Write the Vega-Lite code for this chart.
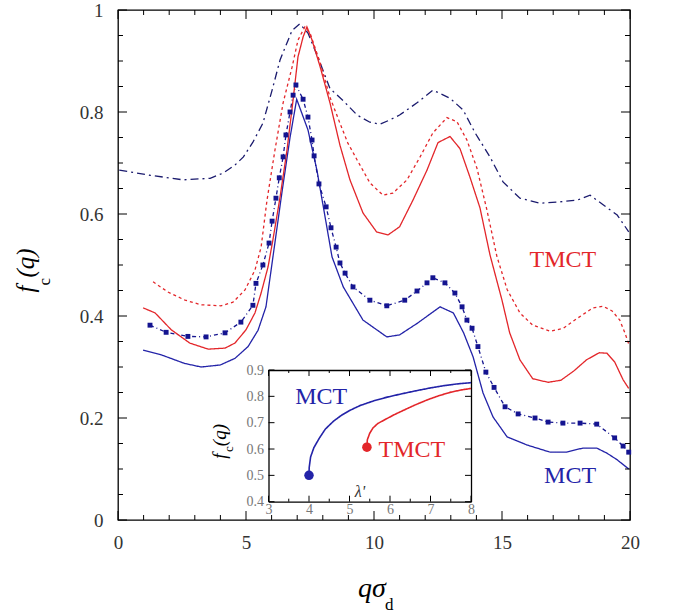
{
  "$schema": "https://vega.github.io/schema/vega-lite/v6.json",
  "width": 512,
  "height": 510,
  "autosize": "none",
  "padding": {"left": 118, "top": 10, "right": 43, "bottom": 94},
  "background": "white",
  "config": {
    "view": {"stroke": "#000", "strokeWidth": 1.3},
    "axis": {"grid": false, "title": null, "domainColor": "#000", "domainWidth": 1.3, "labelFont": "Liberation Serif", "labelOverlap": false, "labelFlush": false, "labelBound": false}
  },
  "datasets": {
    "main": [
      {"s":"MCT","q":0.98,"f":0.333},{"s":"MCT","q":1.68,"f":0.324},{"s":"MCT","q":2.6,"f":0.307},{"s":"MCT","q":3.25,"f":0.300},{"s":"MCT","q":4.0,"f":0.304},{"s":"MCT","q":4.57,"f":0.317},{"s":"MCT","q":5.08,"f":0.34},{"s":"MCT","q":5.47,"f":0.372},{"s":"MCT","q":5.78,"f":0.418},{"s":"MCT","q":6.05,"f":0.515},{"s":"MCT","q":6.4,"f":0.641},{"s":"MCT","q":6.72,"f":0.75},{"s":"MCT","q":6.98,"f":0.825},{"s":"MCT","q":7.42,"f":0.765},{"s":"MCT","q":7.77,"f":0.686},{"s":"MCT","q":8.09,"f":0.594},{"s":"MCT","q":8.36,"f":0.516},{"s":"MCT","q":8.8,"f":0.457},{"s":"MCT","q":9.57,"f":0.392},{"s":"MCT","q":10.5,"f":0.359},{"s":"MCT","q":11.0,"f":0.363},{"s":"MCT","q":11.7,"f":0.386},{"s":"MCT","q":12.58,"f":0.418},{"s":"MCT","q":13.1,"f":0.406},{"s":"MCT","q":13.5,"f":0.367},{"s":"MCT","q":13.87,"f":0.32},{"s":"MCT","q":14.26,"f":0.249},{"s":"MCT","q":14.65,"f":0.202},{"s":"MCT","q":15.2,"f":0.163},{"s":"MCT","q":15.98,"f":0.147},{"s":"MCT","q":16.88,"f":0.133},{"s":"MCT","q":17.5,"f":0.133},{"s":"MCT","q":18.16,"f":0.141},{"s":"MCT","q":18.7,"f":0.141},{"s":"MCT","q":19.1,"f":0.131},{"s":"MCT","q":19.5,"f":0.118},{"s":"MCT","q":19.95,"f":0.100},
      {"s":"MCTd","q":1.25,"f":0.382},{"s":"MCTd","q":1.88,"f":0.368},{"s":"MCTd","q":2.73,"f":0.36},{"s":"MCTd","q":3.44,"f":0.359},{"s":"MCTd","q":4.18,"f":0.367},{"s":"MCTd","q":4.8,"f":0.388},{"s":"MCTd","q":5.27,"f":0.421},{"s":"MCTd","q":5.39,"f":0.464},{"s":"MCTd","q":5.66,"f":0.5},{"s":"MCTd","q":5.9,"f":0.543},{"s":"MCTd","q":6.02,"f":0.586},{"s":"MCTd","q":6.17,"f":0.631},{"s":"MCTd","q":6.3,"f":0.671},{"s":"MCTd","q":6.45,"f":0.712},{"s":"MCTd","q":6.56,"f":0.755},{"s":"MCTd","q":6.72,"f":0.8},{"s":"MCTd","q":6.84,"f":0.833},{"s":"MCTd","q":6.95,"f":0.853},{"s":"MCTd","q":7.23,"f":0.825},{"s":"MCTd","q":7.42,"f":0.79},{"s":"MCTd","q":7.58,"f":0.745},{"s":"MCTd","q":7.66,"f":0.714},{"s":"MCTd","q":7.85,"f":0.659},{"s":"MCTd","q":8.13,"f":0.614},{"s":"MCTd","q":8.32,"f":0.573},{"s":"MCTd","q":8.52,"f":0.535},{"s":"MCTd","q":8.67,"f":0.504},{"s":"MCTd","q":8.87,"f":0.484},{"s":"MCTd","q":9.18,"f":0.457},{"s":"MCTd","q":9.84,"f":0.431},{"s":"MCTd","q":10.5,"f":0.42},{"s":"MCTd","q":11.2,"f":0.431},{"s":"MCTd","q":11.68,"f":0.449},{"s":"MCTd","q":12.07,"f":0.465},{"s":"MCTd","q":12.3,"f":0.475},{"s":"MCTd","q":12.77,"f":0.465},{"s":"MCTd","q":13.16,"f":0.445},{"s":"MCTd","q":13.44,"f":0.418},{"s":"MCTd","q":13.63,"f":0.392},{"s":"MCTd","q":13.83,"f":0.376},{"s":"MCTd","q":14.06,"f":0.34},{"s":"MCTd","q":14.37,"f":0.29},{"s":"MCTd","q":14.69,"f":0.26},{"s":"MCTd","q":15.12,"f":0.222},{"s":"MCTd","q":15.63,"f":0.208},{"s":"MCTd","q":16.29,"f":0.2},{"s":"MCTd","q":16.8,"f":0.192},{"s":"MCTd","q":17.38,"f":0.19},{"s":"MCTd","q":18.05,"f":0.19},{"s":"MCTd","q":18.7,"f":0.188},{"s":"MCTd","q":19.4,"f":0.161},{"s":"MCTd","q":19.73,"f":0.145},{"s":"MCTd","q":19.95,"f":0.133},
      {"s":"MCTdd","q":0.05,"f":0.686},{"s":"MCTdd","q":1.25,"f":0.676},{"s":"MCTdd","q":2.54,"f":0.667},{"s":"MCTdd","q":3.6,"f":0.67},{"s":"MCTdd","q":4.1,"f":0.68},{"s":"MCTdd","q":4.57,"f":0.696},{"s":"MCTdd","q":4.9,"f":0.712},{"s":"MCTdd","q":5.27,"f":0.741},{"s":"MCTdd","q":5.66,"f":0.778},{"s":"MCTdd","q":6.02,"f":0.843},{"s":"MCTdd","q":6.33,"f":0.902},{"s":"MCTdd","q":6.8,"f":0.96},{"s":"MCTdd","q":7.1,"f":0.973},{"s":"MCTdd","q":7.42,"f":0.955},{"s":"MCTdd","q":7.9,"f":0.896},{"s":"MCTdd","q":8.28,"f":0.846},{"s":"MCTdd","q":8.8,"f":0.822},{"s":"MCTdd","q":9.34,"f":0.794},{"s":"MCTdd","q":9.84,"f":0.78},{"s":"MCTdd","q":10.23,"f":0.776},{"s":"MCTdd","q":10.6,"f":0.784},{"s":"MCTdd","q":11.0,"f":0.794},{"s":"MCTdd","q":11.68,"f":0.818},{"s":"MCTdd","q":12.3,"f":0.843},{"s":"MCTdd","q":12.97,"f":0.827},{"s":"MCTdd","q":13.48,"f":0.804},{"s":"MCTdd","q":13.95,"f":0.759},{"s":"MCTdd","q":14.53,"f":0.712},{"s":"MCTdd","q":15.04,"f":0.663},{"s":"MCTdd","q":15.7,"f":0.631},{"s":"MCTdd","q":16.48,"f":0.621},{"s":"MCTdd","q":17.27,"f":0.624},{"s":"MCTdd","q":17.93,"f":0.627},{"s":"MCTdd","q":18.44,"f":0.637},{"s":"MCTdd","q":18.95,"f":0.618},{"s":"MCTdd","q":19.5,"f":0.598},{"s":"MCTdd","q":19.95,"f":0.565},
      {"s":"TMCT","q":0.98,"f":0.416},{"s":"TMCT","q":1.45,"f":0.406},{"s":"TMCT","q":2.08,"f":0.373},{"s":"TMCT","q":2.8,"f":0.347},{"s":"TMCT","q":3.52,"f":0.335},{"s":"TMCT","q":4.18,"f":0.337},{"s":"TMCT","q":4.57,"f":0.347},{"s":"TMCT","q":5.0,"f":0.373},{"s":"TMCT","q":5.35,"f":0.406},{"s":"TMCT","q":5.59,"f":0.445},{"s":"TMCT","q":5.86,"f":0.496},{"s":"TMCT","q":6.05,"f":0.549},{"s":"TMCT","q":6.33,"f":0.633},{"s":"TMCT","q":6.6,"f":0.725},{"s":"TMCT","q":6.84,"f":0.824},{"s":"TMCT","q":7.03,"f":0.908},{"s":"TMCT","q":7.23,"f":0.947},{"s":"TMCT","q":7.38,"f":0.967},{"s":"TMCT","q":7.58,"f":0.941},{"s":"TMCT","q":7.9,"f":0.888},{"s":"TMCT","q":8.28,"f":0.818},{"s":"TMCT","q":8.67,"f":0.735},{"s":"TMCT","q":9.06,"f":0.667},{"s":"TMCT","q":9.57,"f":0.602},{"s":"TMCT","q":10.1,"f":0.565},{"s":"TMCT","q":10.55,"f":0.559},{"s":"TMCT","q":11.0,"f":0.575},{"s":"TMCT","q":11.52,"f":0.627},{"s":"TMCT","q":12.07,"f":0.686},{"s":"TMCT","q":12.5,"f":0.74},{"s":"TMCT","q":12.97,"f":0.752},{"s":"TMCT","q":13.36,"f":0.728},{"s":"TMCT","q":13.75,"f":0.672},{"s":"TMCT","q":14.14,"f":0.612},{"s":"TMCT","q":14.53,"f":0.52},{"s":"TMCT","q":15.0,"f":0.431},{"s":"TMCT","q":15.3,"f":0.367},{"s":"TMCT","q":15.7,"f":0.314},{"s":"TMCT","q":16.2,"f":0.277},{"s":"TMCT","q":16.8,"f":0.27},{"s":"TMCT","q":17.3,"f":0.274},{"s":"TMCT","q":17.8,"f":0.292},{"s":"TMCT","q":18.3,"f":0.314},{"s":"TMCT","q":18.8,"f":0.328},{"s":"TMCT","q":19.1,"f":0.327},{"s":"TMCT","q":19.4,"f":0.31},{"s":"TMCT","q":19.73,"f":0.275},{"s":"TMCT","q":19.95,"f":0.258},
      {"s":"TMCTd","q":1.37,"f":0.467},{"s":"TMCTd","q":1.95,"f":0.447},{"s":"TMCTd","q":2.62,"f":0.431},{"s":"TMCTd","q":3.25,"f":0.422},{"s":"TMCTd","q":4.02,"f":0.42},{"s":"TMCTd","q":4.49,"f":0.427},{"s":"TMCTd","q":4.96,"f":0.451},{"s":"TMCTd","q":5.35,"f":0.49},{"s":"TMCTd","q":5.59,"f":0.535},{"s":"TMCTd","q":5.82,"f":0.627},{"s":"TMCTd","q":6.13,"f":0.725},{"s":"TMCTd","q":6.45,"f":0.818},{"s":"TMCTd","q":6.8,"f":0.888},{"s":"TMCTd","q":7.03,"f":0.941},{"s":"TMCTd","q":7.3,"f":0.967},{"s":"TMCTd","q":7.5,"f":0.955},{"s":"TMCTd","q":7.9,"f":0.896},{"s":"TMCTd","q":8.28,"f":0.829},{"s":"TMCTd","q":8.67,"f":0.778},{"s":"TMCTd","q":8.98,"f":0.739},{"s":"TMCTd","q":9.34,"f":0.706},{"s":"TMCTd","q":9.84,"f":0.661},{"s":"TMCTd","q":10.35,"f":0.637},{"s":"TMCTd","q":10.74,"f":0.641},{"s":"TMCTd","q":11.29,"f":0.667},{"s":"TMCTd","q":11.8,"f":0.712},{"s":"TMCTd","q":12.3,"f":0.759},{"s":"TMCTd","q":12.85,"f":0.789},{"s":"TMCTd","q":13.24,"f":0.781},{"s":"TMCTd","q":13.63,"f":0.745},{"s":"TMCTd","q":14.02,"f":0.69},{"s":"TMCTd","q":14.41,"f":0.608},{"s":"TMCTd","q":14.8,"f":0.517},{"s":"TMCTd","q":15.2,"f":0.452},{"s":"TMCTd","q":15.7,"f":0.406},{"s":"TMCTd","q":16.2,"f":0.382},{"s":"TMCTd","q":16.88,"f":0.37},{"s":"TMCTd","q":17.4,"f":0.376},{"s":"TMCTd","q":17.93,"f":0.395},{"s":"TMCTd","q":18.55,"f":0.416},{"s":"TMCTd","q":18.95,"f":0.419},{"s":"TMCTd","q":19.3,"f":0.41},{"s":"TMCTd","q":19.6,"f":0.392},{"s":"TMCTd","q":19.8,"f":0.367},{"s":"TMCTd","q":19.95,"f":0.345}
    ],
    "mainLabels": [
      {"s":"TMCT","t":"TMCT","q":17.38,"f":0.51},
      {"s":"MCT","t":"MCT","q":17.66,"f":0.086}
    ],
    "annot": [
      {"k":"xt","t":"qσ","q":9.92,"f":-0.151},
      {"k":"xs","t":"d","q":10.43,"f":-0.176},
      {"k":"yf","t":"f","q":-3.28,"f":0.453},
      {"k":"yq","t":"(q)","q":-3.28,"f":0.504},
      {"k":"yc","t":"c","q":-2.85,"f":0.467}
    ],
    "mx": [{"v":0},{"v":5},{"v":10},{"v":15},{"v":20}],
    "nx": [{"v":1},{"v":2},{"v":3},{"v":4},{"v":6},{"v":7},{"v":8},{"v":9},{"v":11},{"v":12},{"v":13},{"v":14},{"v":16},{"v":17},{"v":18},{"v":19}],
    "my": [{"v":0},{"v":0.2},{"v":0.4},{"v":0.6},{"v":0.8},{"v":1}],
    "ny": [{"v":0.05},{"v":0.1},{"v":0.15},{"v":0.25},{"v":0.3},{"v":0.35},{"v":0.45},{"v":0.5},{"v":0.55},{"v":0.65},{"v":0.7},{"v":0.75},{"v":0.85},{"v":0.9},{"v":0.95}],
    "ix": [{"v":3},{"v":4},{"v":5},{"v":6},{"v":7},{"v":8}],
    "inx": [{"v":3.5},{"v":4.5},{"v":5.5},{"v":6.5},{"v":7.5}],
    "iy": [{"v":0.4},{"v":0.5},{"v":0.6},{"v":0.7},{"v":0.8},{"v":0.9}],
    "inset": [
      {"s":"MCT","l":4.0,"f":0.5},{"s":"MCT","l":4.005,"f":0.53},{"s":"MCT","l":4.04,"f":0.57},{"s":"MCT","l":4.12,"f":0.605},{"s":"MCT","l":4.25,"f":0.64},{"s":"MCT","l":4.4,"f":0.675},{"s":"MCT","l":4.6,"f":0.705},{"s":"MCT","l":4.8,"f":0.728},{"s":"MCT","l":5.0,"f":0.746},{"s":"MCT","l":5.26,"f":0.765},{"s":"MCT","l":5.6,"f":0.783},{"s":"MCT","l":5.93,"f":0.797},{"s":"MCT","l":6.3,"f":0.81},{"s":"MCT","l":6.67,"f":0.822},{"s":"MCT","l":7.0,"f":0.832},{"s":"MCT","l":7.31,"f":0.84},{"s":"MCT","l":7.65,"f":0.847},{"s":"MCT","l":8.0,"f":0.852},
      {"s":"TMCT","l":5.43,"f":0.607},{"s":"TMCT","l":5.44,"f":0.635},{"s":"TMCT","l":5.5,"f":0.66},{"s":"TMCT","l":5.58,"f":0.68},{"s":"TMCT","l":5.7,"f":0.697},{"s":"TMCT","l":5.88,"f":0.712},{"s":"TMCT","l":6.1,"f":0.73},{"s":"TMCT","l":6.32,"f":0.746},{"s":"TMCT","l":6.6,"f":0.766},{"s":"TMCT","l":6.91,"f":0.786},{"s":"TMCT","l":7.2,"f":0.802},{"s":"TMCT","l":7.48,"f":0.815},{"s":"TMCT","l":7.75,"f":0.824},{"s":"TMCT","l":8.0,"f":0.83}
    ],
    "insetStart": [
      {"s":"MCT","l":4.0,"f":0.5},
      {"s":"TMCT","l":5.43,"f":0.607}
    ],
    "insetLabels": [
      {"s":"MCT","t":"MCT","l":4.3,"f":0.797},
      {"s":"TMCT","t":"TMCT","l":6.54,"f":0.596}
    ],
    "insetAnnot": [
      {"k":"lam","t":"λ'","l":5.26,"f":0.437},
      {"k":"ff","t":"f","l":1.95,"f":0.573},
      {"k":"qq","t":"(q)","l":1.95,"f":0.653},
      {"k":"cc","t":"c","l":2.02,"f":0.6}
    ]
  },
  "resolve": {"scale": {"x": "independent", "y": "independent"}},
  "layer": [
    {
      "resolve": {"axis": {"x": "independent", "y": "independent"}},
      "layer": [
        {
          "data": {"name": "main"},
          "mark": {"type": "line", "strokeWidth": 1.3},
          "encoding": {
            "x": {"field": "q", "type": "quantitative", "scale": {"domain": [0, 20], "nice": false, "zero": false},
                  "axis": {"orient": "bottom", "values": [0, 5, 10, 15, 20], "ticks": false, "tickSize": 0, "domain": false, "labelPadding": 13, "labelFontSize": 19, "labelColor": "#333", "format": "d"}},
            "y": {"field": "f", "type": "quantitative", "scale": {"domain": [0, 1], "nice": false, "zero": false},
                  "axis": {"orient": "left", "values": [0, 0.2, 0.4, 0.6, 0.8, 1], "ticks": false, "tickSize": 0, "domain": false, "labelPadding": 15, "labelFontSize": 19, "labelColor": "#333", "format": "~g"}},
            "color": {"field": "s", "type": "nominal", "legend": null,
                      "scale": {"domain": ["MCT", "MCTd", "MCTdd", "TMCT", "TMCTd"], "range": ["#2323a8", "#161690", "#1b1b6e", "#e3262a", "#e3262a"]}},
            "strokeDash": {"field": "s", "type": "nominal", "legend": null,
                      "scale": {"domain": ["MCT", "MCTd", "MCTdd", "TMCT", "TMCTd"], "range": [[1, 0], [4, 3, 1, 3], [8, 4, 2, 4], [1, 0], [3, 3]]}}
          }
        },
        {
          "data": {"name": "main"},
          "transform": [{"filter": "datum.s === 'MCTd'"}],
          "mark": {"type": "point", "shape": "square", "filled": true, "size": 24, "color": "#141490", "opacity": 1},
          "encoding": {
            "x": {"field": "q", "type": "quantitative", "scale": {"domain": [0, 20], "nice": false, "zero": false}, "axis": null},
            "y": {"field": "f", "type": "quantitative", "scale": {"domain": [0, 1], "nice": false, "zero": false}, "axis": null}
          }
        },
        {
          "data": {"name": "mainLabels"},
          "mark": {"type": "text", "font": "Liberation Serif", "fontSize": 24, "align": "center", "baseline": "middle"},
          "encoding": {
            "x": {"field": "q", "type": "quantitative", "scale": {"domain": [0, 20], "nice": false, "zero": false}, "axis": null},
            "y": {"field": "f", "type": "quantitative", "scale": {"domain": [0, 1], "nice": false, "zero": false}, "axis": null},
            "text": {"field": "t"},
            "color": {"field": "s", "type": "nominal", "legend": null,
                      "scale": {"domain": ["MCT", "MCTd", "MCTdd", "TMCT", "TMCTd"], "range": ["#2323a8", "#161690", "#1b1b6e", "#e3262a", "#e3262a"]}}
          }
        },
        {
          "data": {"name": "annot"},
          "transform": [{"filter": "datum.k === 'xt'"}],
          "mark": {"type": "text", "font": "Liberation Serif", "fontSize": 28, "fontStyle": "italic", "align": "center", "baseline": "alphabetic", "color": "#000"},
          "encoding": {
            "x": {"field": "q", "type": "quantitative", "scale": {"domain": [0, 20], "nice": false, "zero": false}, "axis": null},
            "y": {"field": "f", "type": "quantitative", "scale": {"domain": [0, 1], "nice": false, "zero": false}, "axis": null},
            "text": {"field": "t"}
          }
        },
        {
          "data": {"name": "annot"},
          "transform": [{"filter": "datum.k === 'xs'"}],
          "mark": {"type": "text", "font": "Liberation Serif", "fontSize": 17, "align": "left", "baseline": "alphabetic", "color": "#000"},
          "encoding": {
            "x": {"field": "q", "type": "quantitative", "scale": {"domain": [0, 20], "nice": false, "zero": false}, "axis": null},
            "y": {"field": "f", "type": "quantitative", "scale": {"domain": [0, 1], "nice": false, "zero": false}, "axis": null},
            "text": {"field": "t"}
          }
        },
        {
          "data": {"name": "annot"},
          "transform": [{"filter": "datum.k === 'yf' || datum.k === 'yq'"}],
          "mark": {"type": "text", "font": "Liberation Serif", "fontSize": 25, "fontStyle": "italic", "angle": 270, "align": "center", "baseline": "alphabetic", "color": "#000"},
          "encoding": {
            "x": {"field": "q", "type": "quantitative", "scale": {"domain": [0, 20], "nice": false, "zero": false}, "axis": null},
            "y": {"field": "f", "type": "quantitative", "scale": {"domain": [0, 1], "nice": false, "zero": false}, "axis": null},
            "text": {"field": "t"}
          }
        },
        {
          "data": {"name": "annot"},
          "transform": [{"filter": "datum.k === 'yc'"}],
          "mark": {"type": "text", "font": "Liberation Serif", "fontSize": 17, "angle": 270, "align": "center", "baseline": "middle", "color": "#000"},
          "encoding": {
            "x": {"field": "q", "type": "quantitative", "scale": {"domain": [0, 20], "nice": false, "zero": false}, "axis": null},
            "y": {"field": "f", "type": "quantitative", "scale": {"domain": [0, 1], "nice": false, "zero": false}, "axis": null},
            "text": {"field": "t"}
          }
        },
        {
          "data": {"name": "mx"},
          "mark": {"type": "rule", "color": "#000", "strokeWidth": 1},
          "encoding": {
            "x": {"field": "v", "type": "quantitative", "scale": {"domain": [0, 20], "nice": false, "zero": false}, "axis": null},
            "y": {"datum": 0, "type": "quantitative", "scale": {"domain": [0, 1], "nice": false, "zero": false}, "axis": null},
            "y2": {"datum": 0.0176}
          }
        },
        {
          "data": {"name": "mx"},
          "mark": {"type": "rule", "color": "#000", "strokeWidth": 1},
          "encoding": {
            "x": {"field": "v", "type": "quantitative", "scale": {"domain": [0, 20], "nice": false, "zero": false}, "axis": null},
            "y": {"datum": 1, "type": "quantitative", "scale": {"domain": [0, 1], "nice": false, "zero": false}, "axis": null},
            "y2": {"datum": 0.9824}
          }
        },
        {
          "data": {"name": "nx"},
          "mark": {"type": "rule", "color": "#000", "strokeWidth": 1},
          "encoding": {
            "x": {"field": "v", "type": "quantitative", "scale": {"domain": [0, 20], "nice": false, "zero": false}, "axis": null},
            "y": {"datum": 0, "type": "quantitative", "scale": {"domain": [0, 1], "nice": false, "zero": false}, "axis": null},
            "y2": {"datum": 0.0098}
          }
        },
        {
          "data": {"name": "nx"},
          "mark": {"type": "rule", "color": "#000", "strokeWidth": 1},
          "encoding": {
            "x": {"field": "v", "type": "quantitative", "scale": {"domain": [0, 20], "nice": false, "zero": false}, "axis": null},
            "y": {"datum": 1, "type": "quantitative", "scale": {"domain": [0, 1], "nice": false, "zero": false}, "axis": null},
            "y2": {"datum": 0.9902}
          }
        },
        {
          "data": {"name": "my"},
          "mark": {"type": "rule", "color": "#000", "strokeWidth": 1},
          "encoding": {
            "y": {"field": "v", "type": "quantitative", "scale": {"domain": [0, 1], "nice": false, "zero": false}, "axis": null},
            "x": {"datum": 0, "type": "quantitative", "scale": {"domain": [0, 20], "nice": false, "zero": false}, "axis": null},
            "x2": {"datum": 0.352}
          }
        },
        {
          "data": {"name": "my"},
          "mark": {"type": "rule", "color": "#000", "strokeWidth": 1},
          "encoding": {
            "y": {"field": "v", "type": "quantitative", "scale": {"domain": [0, 1], "nice": false, "zero": false}, "axis": null},
            "x": {"datum": 20, "type": "quantitative", "scale": {"domain": [0, 20], "nice": false, "zero": false}, "axis": null},
            "x2": {"datum": 19.648}
          }
        },
        {
          "data": {"name": "ny"},
          "mark": {"type": "rule", "color": "#000", "strokeWidth": 1},
          "encoding": {
            "y": {"field": "v", "type": "quantitative", "scale": {"domain": [0, 1], "nice": false, "zero": false}, "axis": null},
            "x": {"datum": 0, "type": "quantitative", "scale": {"domain": [0, 20], "nice": false, "zero": false}, "axis": null},
            "x2": {"datum": 0.195}
          }
        },
        {
          "data": {"name": "ny"},
          "mark": {"type": "rule", "color": "#000", "strokeWidth": 1},
          "encoding": {
            "y": {"field": "v", "type": "quantitative", "scale": {"domain": [0, 1], "nice": false, "zero": false}, "axis": null},
            "x": {"datum": 20, "type": "quantitative", "scale": {"domain": [0, 20], "nice": false, "zero": false}, "axis": null},
            "x2": {"datum": 19.805}
          }
        }
      ]
    },
    {
      "resolve": {"axis": {"x": "independent", "y": "independent"}},
      "layer": [
        {
          "data": {"name": "inset"},
          "mark": {"type": "line", "strokeWidth": 1.6},
          "encoding": {
            "x": {"field": "l", "type": "quantitative", "scale": {"domain": [3, 8], "range": [150.5, 353], "nice": false, "zero": false},
                  "axis": {"orient": "bottom", "offset": -18.3, "values": [3, 4, 5, 6, 7, 8], "ticks": false, "tickSize": 0, "domain": true, "labelPadding": 1, "labelFontSize": 14, "labelColor": "#777"}},
            "y": {"field": "f", "type": "quantitative", "scale": {"domain": [0.4, 0.9], "range": [491.7, 360], "nice": false, "zero": false},
                  "axis": {"orient": "left", "offset": -150.5, "values": [0.4, 0.5, 0.6, 0.7, 0.8, 0.9], "ticks": false, "tickSize": 0, "domain": true, "labelPadding": 5, "labelFontSize": 14, "labelColor": "#777", "format": ".1f"}},
            "color": {"field": "s", "type": "nominal", "legend": null,
                      "scale": {"domain": ["MCT", "MCTd", "MCTdd", "TMCT", "TMCTd"], "range": ["#2323a8", "#161690", "#1b1b6e", "#e3262a", "#e3262a"]}},
            "strokeDash": {"field": "s", "type": "nominal", "legend": null,
                      "scale": {"domain": ["MCT", "MCTd", "MCTdd", "TMCT", "TMCTd"], "range": [[1, 0], [4, 3, 1, 3], [8, 4, 2, 4], [1, 0], [3, 3]]}}
          }
        },
        {
          "data": {"name": "insetStart"},
          "mark": {"type": "point", "shape": "circle", "filled": true, "size": 90, "opacity": 1},
          "encoding": {
            "x": {"field": "l", "type": "quantitative", "scale": {"domain": [3, 8], "range": [150.5, 353], "nice": false, "zero": false}, "axis": null},
            "y": {"field": "f", "type": "quantitative", "scale": {"domain": [0.4, 0.9], "range": [491.7, 360], "nice": false, "zero": false}, "axis": null},
            "color": {"field": "s", "type": "nominal", "legend": null,
                      "scale": {"domain": ["MCT", "MCTd", "MCTdd", "TMCT", "TMCTd"], "range": ["#2323a8", "#161690", "#1b1b6e", "#e3262a", "#e3262a"]}}
          }
        },
        {
          "data": {"name": "insetLabels"},
          "mark": {"type": "text", "font": "Liberation Serif", "fontSize": 24, "align": "center", "baseline": "middle"},
          "encoding": {
            "x": {"field": "l", "type": "quantitative", "scale": {"domain": [3, 8], "range": [150.5, 353], "nice": false, "zero": false}, "axis": null},
            "y": {"field": "f", "type": "quantitative", "scale": {"domain": [0.4, 0.9], "range": [491.7, 360], "nice": false, "zero": false},
                  "axis": {"orient": "right", "offset": -159, "ticks": false, "labels": false, "domain": true}},
            "text": {"field": "t"},
            "color": {"field": "s", "type": "nominal", "legend": null,
                      "scale": {"domain": ["MCT", "MCTd", "MCTdd", "TMCT", "TMCTd"], "range": ["#2323a8", "#161690", "#1b1b6e", "#e3262a", "#e3262a"]}}
          }
        },
        {
          "data": {"name": "insetAnnot"},
          "transform": [{"filter": "datum.k === 'lam'"}],
          "mark": {"type": "text", "font": "Liberation Serif", "fontSize": 16, "fontStyle": "italic", "align": "center", "baseline": "middle", "color": "#333"},
          "encoding": {
            "x": {"field": "l", "type": "quantitative", "scale": {"domain": [3, 8], "range": [150.5, 353], "nice": false, "zero": false},
                  "axis": {"orient": "top", "offset": -360, "ticks": false, "labels": false, "domain": true}},
            "y": {"field": "f", "type": "quantitative", "scale": {"domain": [0.4, 0.9], "range": [491.7, 360], "nice": false, "zero": false}, "axis": null},
            "text": {"field": "t"}
          }
        },
        {
          "data": {"name": "insetAnnot"},
          "transform": [{"filter": "datum.k === 'ff' || datum.k === 'qq'"}],
          "mark": {"type": "text", "font": "Liberation Serif", "fontSize": 19, "fontStyle": "italic", "angle": 270, "align": "center", "baseline": "alphabetic", "color": "#000"},
          "encoding": {
            "x": {"field": "l", "type": "quantitative", "scale": {"domain": [3, 8], "range": [150.5, 353], "nice": false, "zero": false}, "axis": null},
            "y": {"field": "f", "type": "quantitative", "scale": {"domain": [0.4, 0.9], "range": [491.7, 360], "nice": false, "zero": false}, "axis": null},
            "text": {"field": "t"}
          }
        },
        {
          "data": {"name": "insetAnnot"},
          "transform": [{"filter": "datum.k === 'cc'"}],
          "mark": {"type": "text", "font": "Liberation Serif", "fontSize": 13, "angle": 270, "align": "center", "baseline": "middle", "color": "#000"},
          "encoding": {
            "x": {"field": "l", "type": "quantitative", "scale": {"domain": [3, 8], "range": [150.5, 353], "nice": false, "zero": false}, "axis": null},
            "y": {"field": "f", "type": "quantitative", "scale": {"domain": [0.4, 0.9], "range": [491.7, 360], "nice": false, "zero": false}, "axis": null},
            "text": {"field": "t"}
          }
        },
        {
          "data": {"name": "ix"},
          "mark": {"type": "rule", "color": "#000", "strokeWidth": 1},
          "encoding": {
            "x": {"field": "v", "type": "quantitative", "scale": {"domain": [3, 8], "range": [150.5, 353], "nice": false, "zero": false}, "axis": null},
            "y": {"datum": 0.4, "type": "quantitative", "scale": {"domain": [0.4, 0.9], "range": [491.7, 360], "nice": false, "zero": false}, "axis": null},
            "y2": {"datum": 0.4228}
          }
        },
        {
          "data": {"name": "ix"},
          "mark": {"type": "rule", "color": "#000", "strokeWidth": 1},
          "encoding": {
            "x": {"field": "v", "type": "quantitative", "scale": {"domain": [3, 8], "range": [150.5, 353], "nice": false, "zero": false}, "axis": null},
            "y": {"datum": 0.9, "type": "quantitative", "scale": {"domain": [0.4, 0.9], "range": [491.7, 360], "nice": false, "zero": false}, "axis": null},
            "y2": {"datum": 0.8772}
          }
        },
        {
          "data": {"name": "inx"},
          "mark": {"type": "rule", "color": "#000", "strokeWidth": 1},
          "encoding": {
            "x": {"field": "v", "type": "quantitative", "scale": {"domain": [3, 8], "range": [150.5, 353], "nice": false, "zero": false}, "axis": null},
            "y": {"datum": 0.4, "type": "quantitative", "scale": {"domain": [0.4, 0.9], "range": [491.7, 360], "nice": false, "zero": false}, "axis": null},
            "y2": {"datum": 0.4114}
          }
        },
        {
          "data": {"name": "inx"},
          "mark": {"type": "rule", "color": "#000", "strokeWidth": 1},
          "encoding": {
            "x": {"field": "v", "type": "quantitative", "scale": {"domain": [3, 8], "range": [150.5, 353], "nice": false, "zero": false}, "axis": null},
            "y": {"datum": 0.9, "type": "quantitative", "scale": {"domain": [0.4, 0.9], "range": [491.7, 360], "nice": false, "zero": false}, "axis": null},
            "y2": {"datum": 0.8886}
          }
        },
        {
          "data": {"name": "iy"},
          "mark": {"type": "rule", "color": "#000", "strokeWidth": 1},
          "encoding": {
            "y": {"field": "v", "type": "quantitative", "scale": {"domain": [0.4, 0.9], "range": [491.7, 360], "nice": false, "zero": false}, "axis": null},
            "x": {"datum": 3, "type": "quantitative", "scale": {"domain": [3, 8], "range": [150.5, 353], "nice": false, "zero": false}, "axis": null},
            "x2": {"datum": 3.148}
          }
        },
        {
          "data": {"name": "iy"},
          "mark": {"type": "rule", "color": "#000", "strokeWidth": 1},
          "encoding": {
            "y": {"field": "v", "type": "quantitative", "scale": {"domain": [0.4, 0.9], "range": [491.7, 360], "nice": false, "zero": false}, "axis": null},
            "x": {"datum": 8, "type": "quantitative", "scale": {"domain": [3, 8], "range": [150.5, 353], "nice": false, "zero": false}, "axis": null},
            "x2": {"datum": 7.852}
          }
        }
      ]
    }
  ]
}
